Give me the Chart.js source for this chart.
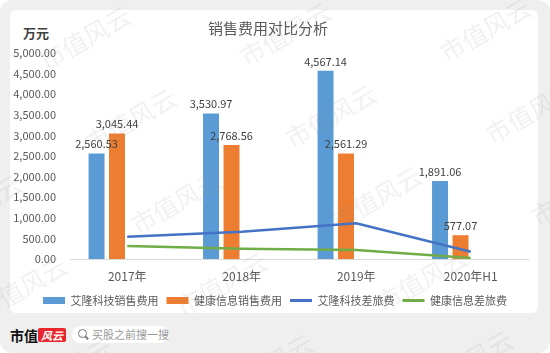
<!DOCTYPE html>
<html>
<head>
<meta charset="utf-8">
<script src="https://cdn.jsdelivr.net/npm/chart.js@4.4.0/dist/chart.umd.min.js"></script>
<style>
  body { margin: 0; background: #fff; font-family: "Noto Sans CJK SC", sans-serif; }
  #wrap { position: relative; width: 550px; height: 353px; overflow: hidden; }
  .outer { position: absolute; left: 0; top: 0; width: 550px; height: 353px; background: #efefef; border-radius: 12px; }
  .card { position: absolute; left: 10px; top: 10px; width: 528px; height: 303px; background: #fff; border-radius: 6px; }
  .unit { position: absolute; left: 23px; top: 23px; font-size: 13px; font-weight: bold; color: #404040; }
  .brand { position: absolute; left: 10px; top: 326px; font-size: 14px; font-weight: bold; color: #111; line-height: 18px; }
  .badge { position: absolute; left: 38px; top: 328px; width: 28px; height: 14px; background: #e8262b; color: #fff;
           font-size: 11px; font-style: italic; font-weight: bold; line-height: 14px; text-align: center; border-radius: 2px; }
  .search { position: absolute; left: 72px; top: 326px; width: 97px; height: 17px; background: #fff; border-radius: 9px; }
  .search .icon { position: absolute; left: 6px; top: 3px; width: 7px; height: 7px; border: 1.5px solid #777; border-radius: 50%; }
  .search .handle { position: absolute; left: 13px; top: 11px; width: 4px; height: 1.5px; background: #777; transform: rotate(45deg); }
  .search .txt { position: absolute; left: 20px; top: 0; font-size: 11px; color: #999; line-height: 17px; }
  canvas { position: absolute; left: 0; top: 0; }
</style>
</head>
<body>
<div id="wrap">
  <div class="outer"></div>
  <div class="card"></div>
  <div class="unit">万元</div>
  <div class="brand">市值</div>
  <div class="badge">风云</div>
  <div class="search"><div class="icon"></div><div class="handle"></div><div class="txt">买股之前搜一搜</div></div>
  <canvas id="chart" width="550" height="353"></canvas>
</div>
<script>
// categories and series
const categories = ['2017年', '2018年', '2019年', '2020年H1'];
const alongSales = [2560.53, 3530.97, 4567.14, 1891.06];
const jiankangSales = [3045.44, 2768.56, 2561.29, 577.07];
const alongTravel = [540, 660, 865, 175];
const jiankangTravel = [315, 250, 218, 25];

const seriesNames = ['艾隆科技销售费用', '健康信息销售费用', '艾隆科技差旅费', '健康信息差旅费'];
const fontFamily = '"Noto Sans CJK SC", sans-serif';

const fmt = v => Number(v).toLocaleString('en-US', { minimumFractionDigits: 2, maximumFractionDigits: 2 });

// value labels above the bars
const barLabels = {
    id: 'barLabels',
    afterDatasetsDraw(chart) {
        const ctx = chart.ctx;
        ctx.save();
        ctx.font = '11px ' + fontFamily;
        ctx.fillStyle = '#404040';
        ctx.textAlign = 'center';
        ctx.textBaseline = 'bottom';
        chart.data.datasets.forEach((ds, i) => {
            if (ds.type !== 'bar' || !ds.data.length) return;
            chart.getDatasetMeta(i).data.forEach((bar, k) => {
                ctx.fillText(fmt(ds.data[k]), bar.x, bar.y - 4);
            });
        });
        ctx.restore();
    }
};

// nudge the legend row a little to the right, like the original
const legendShift = {
    id: 'legendShift',
    afterLayout(chart) {
        chart.legend.left += 7;
        chart.legend.right += 7;
    }
};

// repeated site watermark
const watermark = {
    id: 'watermark',
    afterDraw(chart) {
        const ctx = chart.ctx;
        ctx.save();
        ctx.font = '25px ' + fontFamily;
        ctx.fillStyle = 'rgba(150,150,150,0.13)';
        for (let i = -2; i <= 3; i++) {
            for (let j = -1; j <= 5; j++) {
                ctx.save();
                ctx.translate(42 + 200 * i + 45.5 * j, 63 - 4 * i + 82 * j);
                ctx.rotate(-0.52);
                ctx.fillText('市值风云', 0, 0);
                ctx.restore();
            }
        }
        ctx.restore();
    }
};

new Chart(document.getElementById('chart'), {
    data: {
        labels: categories,
        datasets: [
            { type: 'bar', label: seriesNames[0], data: alongSales, backgroundColor: '#5B9BD5', order: 1 },
            { type: 'bar', label: seriesNames[1], data: jiankangSales, backgroundColor: '#ED7D31', order: 1 },
            { type: 'line', label: seriesNames[2], data: alongTravel, borderColor: '#4472C4', backgroundColor: '#4472C4',
              borderWidth: 2.5, pointRadius: 0, tension: 0, order: 0 },
            { type: 'line', label: seriesNames[3], data: jiankangTravel, borderColor: '#70AD47', backgroundColor: '#70AD47',
              borderWidth: 2.5, pointRadius: 0, tension: 0, order: 0 },
            // empty slots so the bar pair sits left of the category centre
            { type: 'bar', label: '', data: [], order: 1 },
            { type: 'bar', label: '', data: [], order: 1 }
        ]
    },
    options: {
        responsive: false,
        animation: false,
        categoryPercentage: 0.715,
        barPercentage: 0.78,
        layout: { padding: { left: 8, right: 22, top: 19, bottom: 37 } },
        scales: {
            x: {
                afterFit: s => { s.height = 28; },
                grid: { display: false, drawTicks: false },
                border: { color: '#d9d9d9', width: 1 },
                ticks: { color: '#595959', font: { family: fontFamily, size: 12 }, padding: 10 }
            },
            y: {
                min: 0,
                max: 5000,
                afterFit: s => { s.width = 62; },
                grid: { display: false, drawTicks: false },
                border: { display: false },
                ticks: {
                    stepSize: 500,
                    padding: 14,
                    color: '#595959',
                    font: { family: fontFamily, size: 11 },
                    callback: v => fmt(v)
                }
            }
        },
        plugins: {
            title: {
                display: true,
                text: '销售费用对比分析',
                color: '#595959',
                font: { family: fontFamily, size: 15, weight: 'normal' },
                padding: { top: 0, bottom: 16 }
            },
            legend: {
                position: 'bottom',
                labels: {
                    usePointStyle: true,
                    pointStyleWidth: 22,
                    boxHeight: 7,
                    padding: 8,
                    color: '#595959',
                    font: { family: fontFamily, size: 11 },
                    filter: item => item.datasetIndex < 4,
                    sort: (a, b) => a.datasetIndex - b.datasetIndex,
                    generateLabels: chart => Chart.defaults.plugins.legend.labels.generateLabels(chart).map(item => {
                        const ds = chart.data.datasets[item.datasetIndex];
                        item.pointStyle = ds.type === 'line' ? 'line' : 'rect';
                        item.lineWidth = ds.type === 'line' ? 3 : 0;
                        item.strokeStyle = ds.type === 'line' ? ds.borderColor : ds.backgroundColor;
                        return item;
                    })
                }
            },
            tooltip: { enabled: false }
        }
    },
    plugins: [barLabels, legendShift, watermark]
});
</script>
</body>
</html>
